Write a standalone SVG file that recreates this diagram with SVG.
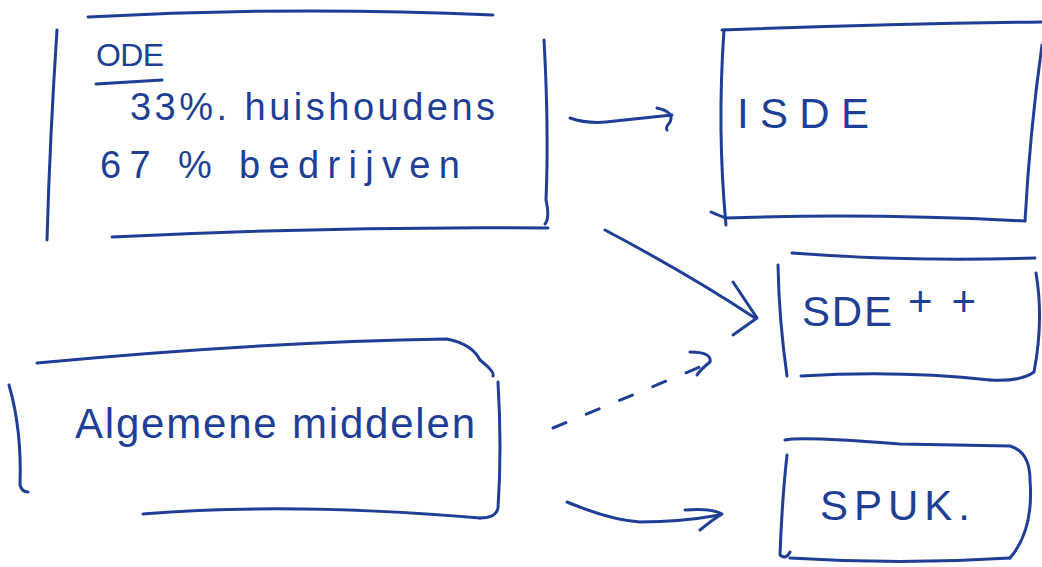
<svg xmlns="http://www.w3.org/2000/svg" width="1042" height="567" viewBox="0 0 1042 567">
<style>
.ink{fill:none;stroke:#1f3f96;stroke-width:3;stroke-linecap:round;stroke-linejoin:round}
.dash{stroke-dasharray:14 22}
.t{fill:#1f3f96;font-family:"Liberation Sans","DejaVu Sans",sans-serif;font-weight:normal}
</style>
<rect width="1042" height="567" fill="#ffffff"/>
<g id="node-ode">
<path class="ink" d="M88,17 Q290,6 493,15"/>
<path class="ink" d="M57,30 Q50,135 47,240"/>
<path class="ink" d="M544,40 Q549,130 546,200 Q550,218 545,224"/>
<path class="ink" d="M112,237 Q330,226 548,228"/>
<text class="t" x="96" y="66" font-size="32" textLength="68" lengthAdjust="spacing">ODE</text>
<path class="ink" d="M96,84 L162,80"/>
<text class="t" x="130" y="120" font-size="38" textLength="365" lengthAdjust="spacing">33%. huishoudens</text>
<text class="t" x="100" y="178" font-size="38" textLength="360" lengthAdjust="spacing">67 %  bedrijven</text>
</g>
<g id="node-isde">
<path class="ink" d="M722,30 Q880,24 1042,22"/>
<path class="ink" d="M724,30 Q717,130 726,225"/>
<path class="ink" d="M711,212 Q720,216 726,218 Q870,213 1025,221"/>
<path class="ink" d="M1042,45 Q1030,130 1025,221"/>
<text class="t" x="737" y="128" font-size="42" textLength="132" lengthAdjust="spacing">ISDE</text>
</g>
<g id="node-sdepp">
<path class="ink" d="M792,253 Q910,262 1035,258"/>
<path class="ink" d="M778,265 Q779,320 787,376"/>
<path class="ink" d="M1036,273 Q1044,320 1034,372 Q1020,382 990,380"/>
<path class="ink" d="M801,376 Q900,370 990,380"/>
<text class="t" x="802" y="326" font-size="42" textLength="90" lengthAdjust="spacing">SDE</text>
<text class="t" x="908" y="316" font-size="42" textLength="68" lengthAdjust="spacing">++</text>
</g>
<g id="node-algemene">
<path class="ink" d="M37,363 Q260,342 447,339 Q472,344 480,360 Q495,372 493,376"/>
<path class="ink" d="M9,385 Q22,430 20,485 Q22,492 28,492"/>
<path class="ink" d="M498,382 Q502,450 498,508 Q496,518 480,518"/>
<path class="ink" d="M143,514 Q290,502 480,518"/>
<text class="t" x="75" y="438" font-size="42" textLength="400" lengthAdjust="spacing">Algemene middelen</text>
</g>
<g id="node-spuk">
<path class="ink" d="M785,440 Q800,436 900,444 L1010,446 Q1030,452 1030,480 Q1034,530 1010,558"/>
<path class="ink" d="M787,455 Q782,500 780,555 Q786,560 790,552"/>
<path class="ink" d="M790,558 Q900,565 1010,558"/>
<text class="t" x="820" y="520" font-size="42" textLength="150" lengthAdjust="spacing">SPUK.</text>
</g>
<g id="connectors">
<path class="ink" d="M570,118 Q590,125 615,121 L672,115"/>
<path class="ink" d="M657,108 Q675,112 670,122 Q665,128 667,130"/>
<path class="ink" d="M605,230 Q690,275 755,318"/>
<path class="ink" d="M733,282 L757,318 L733,335"/>
<path class="ink dash" d="M553,428 L712,362"/>
<path class="ink" d="M690,352 Q712,352 710,362 Q700,370 697,375"/>
<path class="ink" d="M567,502 Q610,520 640,522 Q680,522 720,515"/>
<path class="ink" d="M685,510 Q712,508 722,514 Q712,520 700,530"/>
</g>
</svg>
